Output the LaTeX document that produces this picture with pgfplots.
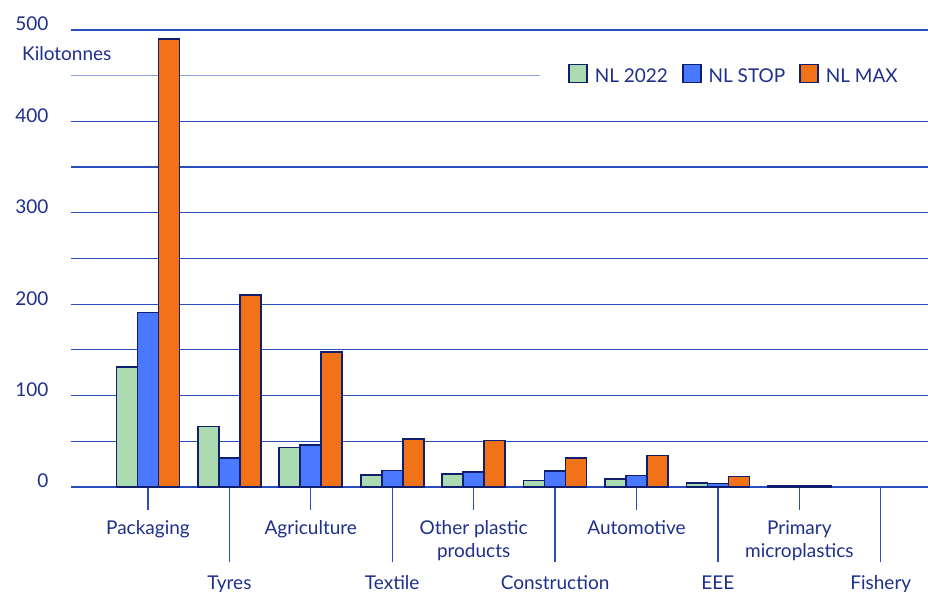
\documentclass[border=0pt]{standalone}
\usepackage{pgfplots}
\pgfplotsset{compat=1.18}
\usepackage{fontspec}
\setmainfont{Lato}
\definecolor{txt}{HTML}{1E2F8C}
\definecolor{gridc}{HTML}{2A4DBE}
\definecolor{gridl}{HTML}{8FA0DC}
\definecolor{edge}{HTML}{0F1E6E}
\definecolor{cgreen}{HTML}{ADDBB1}
\definecolor{cblue}{HTML}{4A78FF}
\definecolor{corange}{HTML}{F27218}
\begin{document}
\begin{tikzpicture}
\begin{axis}[
  name=ax,
  scale only axis,
  width=857pt, height=457pt,
  xmin=-0.945, xmax=9.58,
  ymin=0, ymax=500,
  clip=false,
  axis line style={draw=none},
  font=\fontsize{19}{23}\selectfont,
  every tick label/.append style={text=txt},
  ybar=0pt, bar width=21pt,
  ytick={0,50,...,500},
  yticklabels={0,,100,,200,,300,,400,,500},
  ymajorgrids,
  grid style={color=gridc, line width=1.2pt},
  ytick style={draw=none},
  yticklabel style={anchor=east, xshift=4pt, yshift=6pt},
  /pgf/number format/assume math mode=true,
  tick align=outside,
  xtick pos=bottom,
  xtick={0,2,4,6,8},
  xticklabels={Packaging,Agriculture,{Other plastic\\products},Automotive,{Primary\\microplastics}},
  xticklabel style={align=center, anchor=north, yshift=-7pt},
  major tick length=23pt,
  x tick style={color=gridc, line width=1.2pt},
  extra x ticks={1,3,5,7,9},
  extra x tick labels={Tyres,Textile,Construction,EEE,Fishery},
  extra x tick style={major tick length=75pt, grid=none,
    xticklabel style={yshift=-3pt}},
  legend columns=3,
  legend style={at={(1,0.9015)}, anchor=east, draw=none, fill=white,
    inner xsep=28pt, inner ysep=8pt, text=txt,
    font=\fontsize{19}{23}\selectfont,
    /tikz/every odd column/.append style={column sep=5pt},
    /tikz/every even column/.append style={column sep=12pt}},
  legend image code/.code={\draw[#1, line width=1.6pt] (0pt,-6pt) rectangle (18pt,12pt);},
]
\draw[gridl, line width=1.2pt] (axis cs:-0.945,450) -- (axis cs:9.58,450);
\addplot[fill=cgreen, draw=edge, line width=1.6pt] coordinates {
 (0,131) (1,66) (2,43) (3,13) (4,14.5) (5,7) (6,8.8) (7,4.5) (8,1.5)};
\addplot[fill=cblue, draw=edge, line width=1.6pt] coordinates {
 (0,191) (1,32) (2,46) (3,18) (4,16.4) (5,17.8) (6,12.5) (7,3.6) (8,1.5)};
\addplot[fill=corange, draw=edge, line width=1.6pt] coordinates {
 (0,490) (1,210) (2,148) (3,52.5) (4,50.7) (5,32) (6,34.6) (7,11.5) (8,1.5)};
\legend{NL 2022, NL STOP, NL MAX}
\node[anchor=west, text=txt, font=\fontsize{19}{23}\selectfont, inner sep=0pt] at (rel axis cs:-0.0572,0.9475) {Kilotonnes};
\end{axis}
\pgfresetboundingbox
\path[use as bounding box] ([xshift=-71pt,yshift=-105pt]ax.south west) rectangle ([yshift=30pt]ax.north east);
\end{tikzpicture}
\end{document}
